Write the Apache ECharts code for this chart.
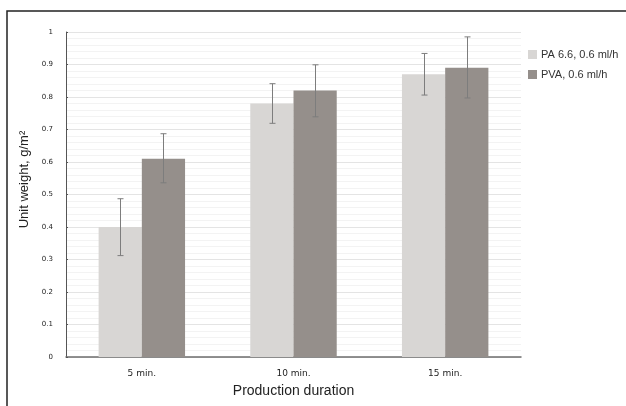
<!DOCTYPE html>
<html>
<head>
<meta charset="utf-8">
<script src="https://cdn.jsdelivr.net/npm/echarts@6/dist/echarts.min.js"></script>
<style>
  html, body { margin: 0; padding: 0; background: #ffffff; }
  #chart { width: 626px; height: 406px; }
</style>
</head>
<body>
<div id="chart"></div>
<script>
// Production duration categories
const categories = ['5 min.', '10 min.', '15 min.'];
// Series names
const seriesNames = ['PA 6.6, 0.6 ml/h', 'PVA, 0.6 ml/h'];
// Mean unit weight (g/m²)
const paValues = [0.40, 0.78, 0.87];
const pvaValues = [0.61, 0.82, 0.89];
// Error bar limits [low, high]
const paErrLow = [0.312, 0.719, 0.806];
const paErrHigh = [0.487, 0.841, 0.934];
const pvaErrLow = [0.536, 0.739, 0.797];
const pvaErrHigh = [0.687, 0.899, 0.985];

const colors = ['#d8d6d4', '#958f8b'];
const catGap = 0.43;
const errColor = '#7d7d7d';

function errorSeries(low, high, side) {
  return {
    type: 'custom',
    z: 10,
    silent: true,
    data: categories.map((c, i) => [i, low[i], high[i]]),
    renderItem: function (params, api) {
      const idx = api.value(0);
      const band = api.size([1, 0])[0];
      const barW = band * (1 - catGap) / 2;
      const lo = api.coord([idx, api.value(1)]);
      const hi = api.coord([idx, api.value(2)]);
      const x = Math.round(lo[0] + side * barW / 2) + 0.5;
      const cap = 3;
      const style = { stroke: errColor, lineWidth: 1, fill: null };
      return {
        type: 'group',
        children: [
          { type: 'line', shape: { x1: x, y1: hi[1], x2: x, y2: lo[1] }, style },
          { type: 'line', shape: { x1: x - cap, y1: hi[1], x2: x + cap, y2: hi[1] }, style },
          { type: 'line', shape: { x1: x - cap, y1: lo[1], x2: x + cap, y2: lo[1] }, style }
        ]
      };
    }
  };
}

const chart = echarts.init(document.getElementById('chart'), null, { renderer: 'canvas' });
chart.setOption({
  animation: false,
  backgroundColor: '#ffffff',
  graphic: [{
    type: 'rect',
    shape: { x: 7, y: 11, width: 700, height: 500 },
    style: { fill: null, stroke: '#222222', lineWidth: 1.5 },
    z: 100
  }],
  legend: {
    orient: 'vertical',
    left: 523,
    top: 44,
    itemWidth: 9,
    itemHeight: 9,
    itemGap: 9,
    icon: 'rect',
    textStyle: { fontFamily: 'Liberation Sans', fontSize: 11, color: '#333333', padding: [0, 0, 0, -1] },
    data: seriesNames
  },
  grid: { left: 66, right: 105, top: 32, bottom: 49, containLabel: false },
  xAxis: {
    type: 'category',
    data: categories,
    name: 'Production duration',
    nameLocation: 'middle',
    nameGap: 27,
    nameTextStyle: { fontFamily: 'Liberation Sans', fontSize: 14, color: '#222222' },
    axisLine: { lineStyle: { color: '#6e6e6e', width: 1.5 } },
    axisTick: { show: false },
    axisLabel: { fontFamily: 'DejaVu Sans', fontSize: 9, color: '#222222', margin: 12 }
  },
  yAxis: {
    type: 'value',
    min: 0,
    max: 1,
    interval: 0.1,
    name: 'Unit weight, g/m²',
    nameLocation: 'middle',
    nameGap: 35,
    nameTextStyle: { fontFamily: 'Liberation Sans', fontSize: 13, color: '#222222', padding: [0, 0, 0, 30] },
    axisLine: { show: true, lineStyle: { color: '#555555', width: 1 } },
    axisTick: { show: true, inside: true, length: 2, lineStyle: { color: '#555555' } },
    axisLabel: {
      fontFamily: 'DejaVu Sans', fontSize: 7, color: '#222222', margin: 13,
      formatter: v => String(Math.round(v * 10) / 10)
    },
    splitLine: { show: true, lineStyle: { color: '#e4e4e4', width: 1 } },
    minorTick: { show: false, splitNumber: 5 },
    minorSplitLine: { show: true, lineStyle: { color: '#f3f3f3', width: 1 } }
  },
  series: [
    {
      name: seriesNames[0],
      type: 'bar',
      data: paValues,
      barGap: '0%',
      barCategoryGap: (catGap * 100) + '%',
      itemStyle: { color: colors[0] }
    },
    {
      name: seriesNames[1],
      type: 'bar',
      data: pvaValues,
      barGap: '0%',
      barCategoryGap: (catGap * 100) + '%',
      itemStyle: { color: colors[1] }
    },
    errorSeries(paErrLow, paErrHigh, -1),
    errorSeries(pvaErrLow, pvaErrHigh, 1)
  ]
});
</script>
</body>
</html>
